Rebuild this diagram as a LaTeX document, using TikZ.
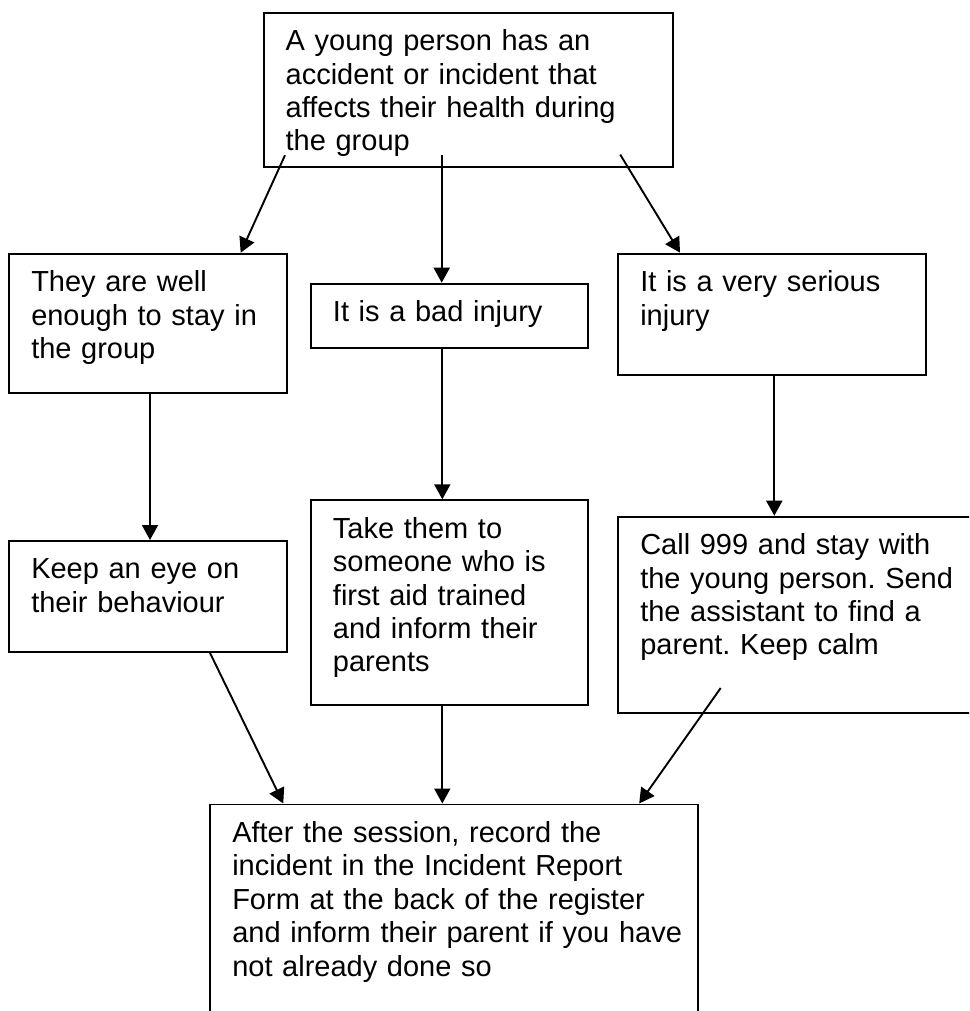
\documentclass[tikz,border=0pt]{standalone}
\usepackage{fontspec}
\setmainfont{Liberation Sans}
\usetikzlibrary{arrows.meta}
\newcommand\boxtext[1]{\frenchspacing\leftskip=11pt\relax#1\par}

\begin{document}
\begin{tikzpicture}[x=0.5pt,y=-0.5pt,>={Triangle[length=7.5pt,width=8pt]},line width=0.95pt,
        box/.style={draw, anchor=north west, inner sep=0pt, align=left, text height=19pt,
            font=\fontsize{14.5pt}{16.7pt}\selectfont}]
        \useasboundingbox (0,0) rectangle (969,1011);
        \clip (0,0) rectangle (969,1011);

        \node (accident) [box, text width=204.5pt, text depth=58pt] at (262.7,11.7) {\boxtext{A young person has an\\accident or incident that\\affects their health during\\the group}};
        \node (well) [box, text width=138.7pt, text depth=50.8pt] at (8.3,252.7) {\boxtext{They are well\\enough to stay in\\the group}};
        \node (bad) [box, text width=138.3pt, text depth=13.3pt] at (310,282.7) {\boxtext{It is a bad injury}};
        \node (serious) [box, text width=153.8pt, text depth=41.8pt] at (617.3,252.7) {\boxtext{It is a very serious\\injury}};
        \node (watch) [box, text width=138.7pt, text depth=36.5pt] at (8.3,540) {\boxtext{Keep an eye on\\their behaviour}};
        \node (firstaid) [box, text width=138.3pt, text depth=83.5pt] at (310,499.3) {\boxtext{Take them to\\someone who is\\first aid trained\\and inform their\\parents}};
        \node (call) [box, text width=190pt, text depth=79.2pt] at (617.3,515.7) {\boxtext{Call 999 and stay with\\the young person. Send\\the assistant to find a\\parent. Keep calm}};
        \node (record) [box, text width=243.7pt, text depth=110pt] at (209.3,803.5) {\boxtext{After the session, record the\\incident in the Incident Report\\Form at the back of the register\\and inform their parent if you have\\not already done so}};

        \coordinate (fromleft) at ([shift={(22.3,-12.4)}]accident.south west);
        \coordinate (frommid) at ([shift={(179,-12.4)}]accident.south west);
        \coordinate (fromright) at ([shift={(-53.4,-13)}]accident.south east);
        \coordinate (fromwatch) at ([shift={(201.7,0)}]watch.south west);
        \coordinate (fromcall) at ([shift={(103.4,-26)}]call.south west);

        \draw[->] (fromleft) -- ([shift={(232.4,0)}]well.north west);
        \draw[->] (frommid) -- (frommid |- bad.north);
        \draw[->] (fromright) -- ([shift={(62.7,0)}]serious.north west);

        \draw[->] ([shift={(141.7,0)}]well.south west) -- ([shift={(141.7,0)}]watch.north west);
        \draw[->] ([shift={(132.3,0)}]bad.south west) -- ([shift={(132.3,0)}]firstaid.north west);
        \draw[->] ([shift={(157,0)}]serious.south west) -- ([shift={(157,0)}]call.north west);

        \draw[->] (fromwatch) -- ([shift={(74,0)}]record.north west);
        \draw[->] ([shift={(132.3,0)}]firstaid.south west) -- ([shift={(233,0)}]record.north west);
        \draw[->] (fromcall) -- ([shift={(-59.4,0)}]record.north east);
    \end{tikzpicture}
\end{document}
